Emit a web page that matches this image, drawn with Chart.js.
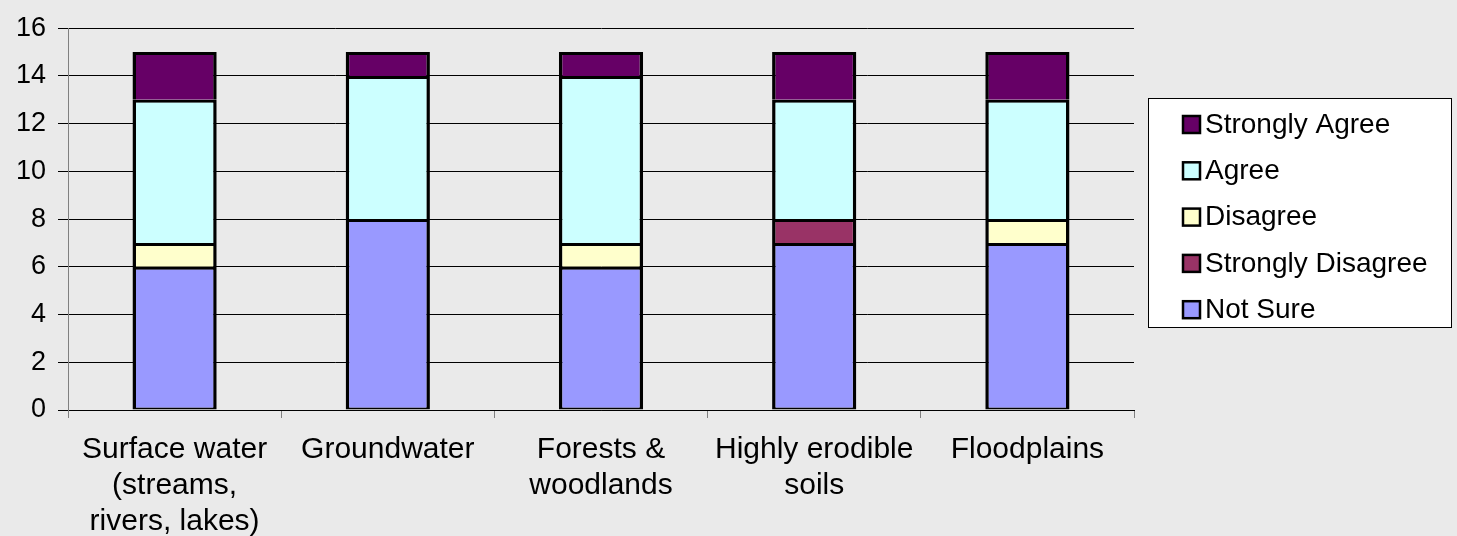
<!DOCTYPE html>
<html>
<head>
<meta charset="utf-8">
<script src="https://cdn.jsdelivr.net/npm/chart.js@4/dist/chart.umd.min.js"></script>
<style>
html, body { margin: 0; padding: 0; background: #eaeaea; }
#wrap { width: 1457px; height: 536px; }
</style>
</head>
<body>
<div id="wrap"><canvas id="chart"></canvas></div>
<script>
// survey answers per land feature, stacked bottom to top
const categories = [['Surface water', '(streams,', 'rivers, lakes)'], 'Groundwater', ['Forests &', 'woodlands'], ['Highly erodible', 'soils'], 'Floodplains']
const not_sure = [6, 8, 6, 7, 7]
const strongly_disagree = [0, 0, 0, 1, 0]
const disagree = [1, 0, 1, 0, 1]
const agree = [6, 6, 7, 5, 5]
const strongly_agree = [2, 1, 1, 2, 2]
const y_min = 0
const y_max = 16
const y_step = 2

const font_name = '"Liberation Sans", Arial, sans-serif'

// each segment draws its top and sides only, so joins stay one line thick
function series(label, data, color, bottom) {
    return {
        label: label,
        data: data,
        backgroundColor: color,
        borderColor: '#000',
        borderWidth: { top: 3, left: 3.5, right: 3.5, bottom: bottom || 0 },
        borderSkipped: false,
        barPercentage: 0.395,
        categoryPercentage: 1
    }
}

// legend drawn as a white box to the right of the plot
const box_legend = {
    id: 'box_legend',
    afterDraw(chart) {
        const ctx = chart.ctx
        const left = chart.chartArea.right + 14
        const top = 98
        ctx.save()
        ctx.fillStyle = '#fff'
        ctx.fillRect(left, top, 304, 230)
        ctx.strokeStyle = '#000'
        ctx.lineWidth = 1
        ctx.strokeRect(left + 0.5, top + 0.5, 303, 229)
        ctx.font = '28px ' + font_name
        ctx.textBaseline = 'middle'
        const sets = chart.data.datasets.slice().reverse()
        sets.forEach((ds, i) => {
            const cy = top + 26 + i * 46.3
            ctx.fillStyle = ds.backgroundColor
            ctx.fillRect(left + 35, cy - 8, 17, 17)
            ctx.strokeStyle = '#000'
            ctx.lineWidth = 2.5
            ctx.strokeRect(left + 35, cy - 8, 17, 17)
            ctx.fillStyle = '#000'
            ctx.fillText(ds.label, left + 57, cy + 1)
        })
        ctx.restore()
    }
}

const ctx = document.getElementById('chart').getContext('2d')
const chart = new Chart(ctx, {
    type: 'bar',
    data: {
        labels: categories,
        datasets: [
            series('Not Sure', not_sure, '#9999ff', 2),
            series('Strongly Disagree', strongly_disagree, '#993366'),
            series('Disagree', disagree, '#ffffcc'),
            series('Agree', agree, '#ccffff'),
            series('Strongly Agree', strongly_agree, '#660066')
        ]
    },
    options: {
        responsive: true,
        maintainAspectRatio: false,
        animation: false,
        events: [],
        layout: { padding: { top: 18, right: 323, left: 0, bottom: 0 } },
        plugins: {
            legend: { display: false },
            tooltip: { enabled: false }
        },
        scales: {
            x: {
                stacked: true,
                grid: { drawOnChartArea: false, drawTicks: true, tickLength: 8, color: '#808080', offset: true },
                border: { color: '#000' },
                ticks: { color: '#000', padding: 14, maxRotation: 0, font: { family: font_name, size: 30, lineHeight: 1.2 } },
                afterFit(scale) { scale.height = 126 }
            },
            y: {
                stacked: true,
                min: y_min,
                max: y_max,
                grid: { color: '#000', tickLength: 10 },
                border: { color: '#808080' },
                ticks: { stepSize: y_step, color: '#000', padding: 12, font: { family: font_name, size: 27 } },
                afterFit(scale) { scale.width = 68 }
            }
        }
    },
    plugins: [box_legend]
})
</script>
</body>
</html>
